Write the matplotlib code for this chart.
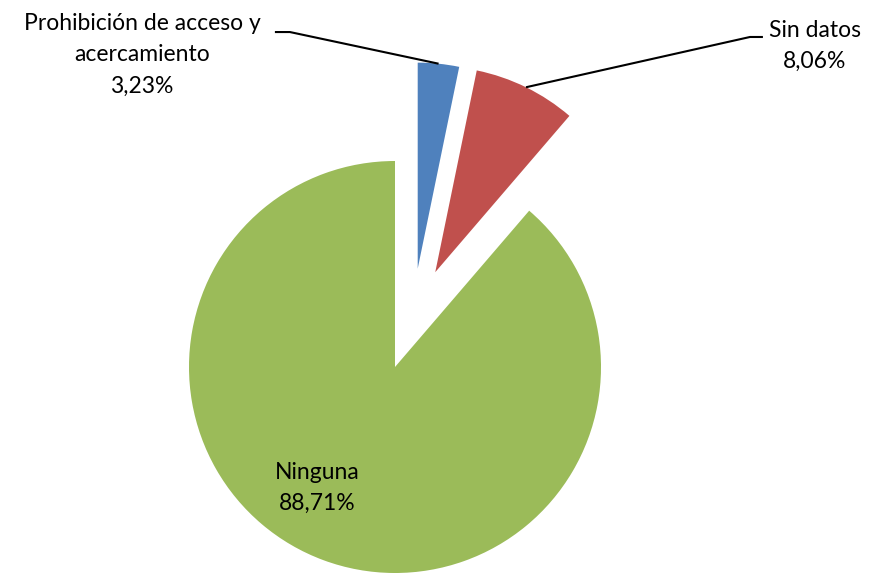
import numpy as np
import matplotlib.pyplot as plt

# data
labels = ["Prohibición de acceso y\nacercamiento", "Sin datos", "Ninguna"]
values = [3.23, 8.06, 88.71]
pct_text = ["3,23%", "8,06%", "88,71%"]
colors = ["#4F81BD", "#C0504D", "#9BBB59"]

plt.rcParams['font.family'] = ['Lato', 'DejaVu Sans']

fig = plt.figure(figsize=(8.74, 5.75), dpi=100)
ax = fig.add_axes([0, 0, 1, 1])

wedges, _ = ax.pie(values, colors=colors, startangle=90, counterclock=False,
                   radius=1, wedgeprops=dict(linewidth=0))

# exploded slices (distance, direction in degrees)
explode_pos = [(0.49, 77.0), (0.50, 67.0), (0.0, 0.0)]
for w, (d, a) in zip(wedges, explode_pos):
    w.set_center((d * np.cos(np.radians(a)), d * np.sin(np.radians(a))))

# anchor points for leader lines: middle of outer arc
anchors = []
for w in wedges:
    mid = np.radians((w.theta1 + w.theta2) / 2)
    cx, cy = w.center
    anchors.append((cx + w.r * np.cos(mid), cy + w.r * np.sin(mid)))

fs = 16.5
ls = 1.6
# blue label
ax.text(-1.228, 1.515, labels[0] + "\n" + pct_text[0], ha="center", va="center",
        fontsize=fs, linespacing=ls)
ax.plot([-0.583, -0.510, anchors[0][0]], [1.626, 1.626, anchors[0][1]],
        color="black", lw=1.5, solid_capstyle="butt")

# red label
ax.text(2.039, 1.558, labels[1] + "\n" + pct_text[1], ha="center", va="center",
        fontsize=fs, linespacing=ls)
ax.plot([1.786, 1.723, anchors[1][0]], [1.602, 1.602, anchors[1][1]],
        color="black", lw=1.5, solid_capstyle="butt")

# green label
ax.text(-0.379, -0.587, labels[2] + "\n" + pct_text[2], ha="center", va="center",
        fontsize=fs, linespacing=ls)

ax.set_xlim(-395 / 206, (874 - 395) / 206)
ax.set_ylim(-208 / 206, 367 / 206)
ax.set_aspect("auto")
ax.axis("off")

fig.savefig("out.png", dpi=100)
